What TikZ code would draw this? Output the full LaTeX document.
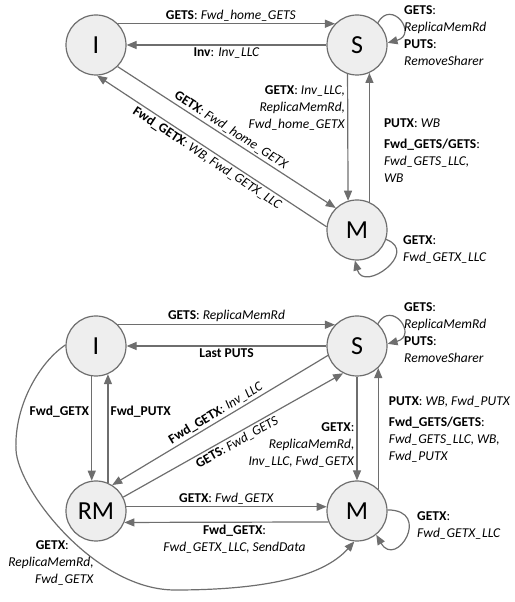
\documentclass[tikz,border=0pt]{standalone}
\usepackage{fontspec}
\setmainfont{Carlito}
\usetikzlibrary{arrows.meta}
\definecolor{edgegray}{HTML}{6E6E6E}
\definecolor{statefill}{HTML}{EEEEEE}
\newcommand{\msg}[2]{\textbf{#1}: \textit{#2}}

\begin{document}
\begin{tikzpicture}[
 x=1pt,y=1pt,
 every node/.style={font=\fontsize{13.5}{17}\selectfont},
 cstate/.style={circle,draw=edgegray,fill=statefill,line width=1.2pt,
  minimum size=60pt,inner sep=0pt,font=\fontsize{26}{30}\selectfont},
 trans/.style={draw=edgegray,line width=1.2pt,-{Triangle[length=10pt,width=8pt]}},
 lbl/.style={inner sep=2pt},
 side/.style={inner sep=2pt,align=left}
]
 \useasboundingbox (0,0) rectangle (514,602);

 % upper diagram
 \node[cstate] (topI) at (96,557) {I};
 \node[cstate] (topS) at (357,557) {S};
 \node[cstate] (topM) at (357,372) {M};

 \draw[trans] (topI.44) -- (topS.136)
  node[pos=0.52,above,lbl] {\msg{GETS}{Fwd\_home\_GETS}};
 \draw[trans] (topS.180) -- (topI.0)
  node[midway,below,lbl] {\msg{Inv}{Inv\_LLC}};
 \draw[trans] (topI.-45) -- (topM.134)
  node[midway,above,sloped,lbl] {\msg{GETX}{Fwd\_home\_GETX}};
 \draw[trans] (topM.174) -- (topI.272)
  node[midway,below,sloped,lbl] {\msg{Fwd\_GETX}{WB, Fwd\_GETX\_LLC}};
 \draw[trans] (topS.252.5) -- (topM.107.5)
  node[pos=0.27,left,align=right,lbl]
  {\msg{GETX}{Inv\_LLC,}\\ \textit{ReplicaMemRd,}\\ \textit{Fwd\_home\_GETX}};
 \draw[trans] (topM.66) -- (topS.294)
  node[pos=0.40,right,xshift=12pt,side]
  {\msg{PUTX}{WB}\\[4pt] \textbf{Fwd\_GETS/GETS}:\\ \textit{Fwd\_GETS\_LLC,}\\ \textit{WB}};
 \draw[trans] (topS.47) .. controls +(60:28) and +(15:32) .. (topS.4);
 \draw[trans] (topM.342) .. controls +(-20:36) and +(-75:34) .. (topM.266);
 \node[side,anchor=west] (topSloop) at (402,566)
  {\textbf{GETS}:\\ \textit{ReplicaMemRd}\\ \textbf{PUTS}:\\ \textit{RemoveSharer}};
 \node[side,anchor=west] (topMloop) at (401,353)
  {\textbf{GETX}:\\ \textit{Fwd\_GETX\_LLC}};

 % lower diagram
 \node[cstate] (botI) at (96,256) {I};
 \node[cstate] (botS) at (357,256) {S};
 \node[cstate] (botRM) at (96,91) {RM};
 \node[cstate] (botM) at (357,91) {M};

 \draw[trans] (botI.44) -- (botS.136)
  node[midway,above,lbl] {\msg{GETS}{ReplicaMemRd}};
 \draw[trans] (botS.180) -- (botI.0)
  node[midway,below,lbl] {\textbf{Last PUTS}};
 \draw[trans] (botI.262) -- (botRM.98)
  node[pos=0.34,left,lbl] {\textbf{Fwd\_GETX}};
 \draw[trans] (botRM.67) -- (botI.293)
  node[pos=0.65,right,lbl] {\textbf{Fwd\_PUTX}};
 \draw[trans] (botS.198) -- (botRM.58)
  node[midway,above,sloped,lbl] {\msg{Fwd\_GETX}{Inv\_LLC}};
 \draw[trans] (botRM.27) -- (botS.243)
  node[midway,below,sloped,lbl] {\msg{GETS}{Fwd\_GETS}};
 \draw[trans] (botS.south) -- (botM.north)
  node[pos=0.66,left,align=right,lbl]
  {\textbf{GETX}:\\ \textit{ReplicaMemRd,}\\ \textit{Inv\_LLC, Fwd\_GETX}};
 \draw[trans] (botM.46) -- (botS.314)
  node[pos=0.49,right,xshift=8pt,side]
  {\msg{PUTX}{WB, Fwd\_PUTX}\\[4pt] \textbf{Fwd\_GETS/GETS}:\\ \textit{Fwd\_GETS\_LLC, WB,}\\ \textit{Fwd\_PUTX}};
 \draw[trans] (botRM.8) -- (botM.172)
  node[midway,above,lbl] {\msg{GETX}{Fwd\_GETX}};
 \draw[trans] (botM.201.5) -- (botRM.338.5)
  node[pos=0.46,below,align=center,lbl]
  {\textbf{Fwd\_GETX}:\\ \textit{Fwd\_GETX\_LLC, SendData}};
 \draw[trans] (botS.47) .. controls +(60:28) and +(15:32) .. (botS.4);
 \draw[trans] (botM.2) .. controls +(0:45) and +(-60:40) .. (botM.309);
 \node[side,anchor=west] (botSloop) at (402,269)
  {\textbf{GETS}:\\ \textit{ReplicaMemRd}\\ \textbf{PUTS}:\\ \textit{RemoveSharer}};
 \node[side,anchor=west] (botMloop) at (415,76.5)
  {\textbf{GETX}:\\ \textit{Fwd\_GETX\_LLC}};

 % long way round from I to M
 \draw[trans] (botI.178) .. controls (40,240) and (14,197) .. (16,152)
  .. controls (18,112) and (95,12) .. (175,12)
  .. controls (260,12) and (322,24) .. (botM.265);
 \node[align=right,anchor=east,inner sep=0pt] (botIMlbl) at (94,39)
  {\textbf{GETX}:\hspace*{25pt}\\ \textit{ReplicaMemRd,}\\ \textit{Fwd\_GETX}};
\end{tikzpicture}
\end{document}
